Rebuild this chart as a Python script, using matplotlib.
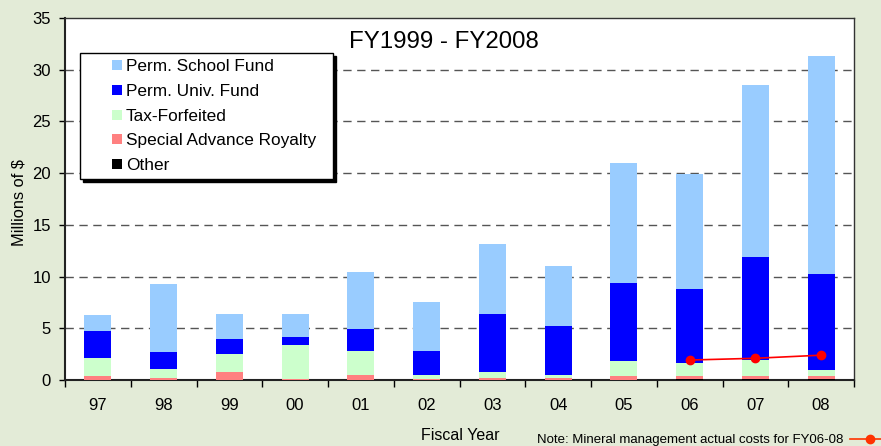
import numpy as np
import matplotlib.pyplot as plt
from matplotlib.patches import Rectangle, Patch
from matplotlib.legend_handler import HandlerPatch
from matplotlib.lines import Line2D

plt.rcParams["font.family"] = ["Liberation Sans", "DejaVu Sans"]

years = ["97", "98", "99", "00", "01", "02", "03", "04", "05", "06", "07", "08"]
other = [0.0, 0.0, 0.0, 0.0, 0.0, 0.0, 0.0, 0.0, 0.0, 0.1, 0.1, 0.1]
special_adv = [0.4, 0.2, 0.77, 0.1, 0.5, 0.05, 0.2, 0.2, 0.4, 0.29, 0.29, 0.29]
tax_forfeited = [1.74, 0.87, 1.74, 3.28, 2.3, 0.43, 0.57, 0.28, 1.45, 1.25, 1.54, 0.58]
perm_univ = [2.6, 1.65, 1.45, 0.78, 2.13, 2.32, 5.61, 4.74, 7.55, 7.16, 9.97, 9.28]
perm_school = [1.56, 6.6, 2.42, 2.22, 5.5, 4.74, 6.8, 5.8, 11.6, 11.1, 16.6, 21.05]

cost_years = ["06", "07", "08"]
mineral_costs = [1.93, 2.1, 2.4]

series = [
    ("Other", other, "#000000"),
    ("Special Advance Royalty", special_adv, "#FF8080"),
    ("Tax-Forfeited", tax_forfeited, "#CCFFCC"),
    ("Perm. Univ. Fund", perm_univ, "#0000FF"),
    ("Perm. School Fund", perm_school, "#99CCFF"),
]

bg = "#E3EBD7"
fig = plt.figure(figsize=(8.81, 4.46), dpi=100, facecolor=bg)
ax = fig.add_axes((65 / 881, 1 - 380 / 446, 789 / 881, 362 / 446))
ax.set_facecolor("white")

x = np.arange(len(years))
bottom = np.zeros(len(years))
for name, vals, col in series:
    ax.bar(x, vals, width=0.41, bottom=bottom, color=col, zorder=3,
           linewidth=0)
    bottom += np.array(vals)

cx = [years.index(y) for y in cost_years]
ax.plot(cx, mineral_costs, color="red", marker="o", markersize=6,
        linewidth=1.2, zorder=4)

ax.set_xlim(-0.5, len(years) - 0.5)
ax.set_ylim(0, 35)
ax.set_yticks(np.arange(0, 36, 5))
ax.set_xticks(x)
ax.set_xticklabels(years)
ax.set_xticks(np.arange(-0.5, len(years), 1), minor=True)
ax.tick_params(axis="x", which="major", length=0, pad=13, labelsize=12)
ax.tick_params(axis="x", which="minor", length=5, width=1, direction="out")
ax.tick_params(axis="y", length=4, width=1, direction="out", labelsize=12,
               pad=6)

for yv in range(5, 35, 5):
    ax.axhline(yv, color="#555555", linestyle=(0, (6, 4)), linewidth=1,
               zorder=1)

for s in ["left", "bottom"]:
    ax.spines[s].set_linewidth(1.5)
    ax.spines[s].set_color("#222222")
for s in ["top", "right"]:
    ax.spines[s].set_linewidth(1)
    ax.spines[s].set_color("#333333")

fig.text(19 / 881, 1 - 203 / 446, "Millions of $", rotation=90,
         ha="center", va="center", fontsize=11.8)
fig.text(460 / 881, 1 - 436 / 446, "Fiscal Year", ha="center", va="center",
         fontsize=11.5)
ax.text(0.48, 0.935, "FY1999 - FY2008", transform=ax.transAxes,
        ha="center", va="center", fontsize=17.3)


def square(legend, orig_handle, xdescent, ydescent, width, height, fontsize):
    s = 10 * 72 / 100
    return Rectangle((-xdescent + width - s, -ydescent + (height - s) / 2),
                     s, s)


handles = [Patch(facecolor=col, linewidth=0) for _, _, col in series][::-1]
labels = [s[0] for s in series][::-1]
leg = ax.legend(handles, labels, loc="upper left",
                bbox_to_anchor=(15 / 789, 1 - 35 / 362 - 0.2, 253 / 789, 0.2),
                mode="expand", borderaxespad=0, fontsize=12.4,
                handlelength=2.06, handletextpad=0.23, labelspacing=0.56,
                borderpad=0.36, fancybox=False,
                shadow={"color": "black", "alpha": 1},
                handler_map={Patch: HandlerPatch(patch_func=square)})
leg.get_frame().set_edgecolor("black")
leg.get_frame().set_linewidth(1)
leg.get_frame().set_alpha(1)

fig.text(537 / 881, 1 - 440 / 446,
         "Note: Mineral management actual costs for FY06-08",
         ha="left", va="center", fontsize=9.5)
fig.add_artist(Line2D([850 / 881, 890 / 881], [1 - 439 / 446, 1 - 439 / 446],
                      color="#FF3300", linewidth=1.2,
                      transform=fig.transFigure))
fig.add_artist(Line2D([870 / 881], [1 - 439 / 446], color="#FF3300",
                      marker="o", markersize=6, transform=fig.transFigure))

fig.savefig("out.png", dpi=100, facecolor=bg)
